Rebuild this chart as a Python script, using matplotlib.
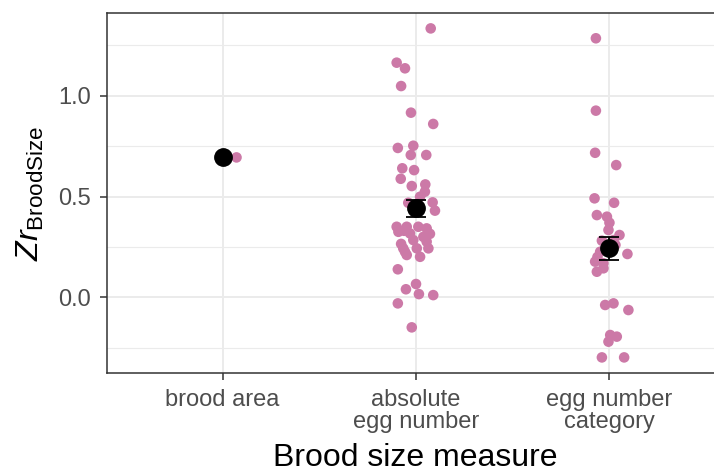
import matplotlib.pyplot as plt
import numpy as np
from matplotlib.ticker import FixedLocator

plt.rcParams['font.family'] = ['Liberation Sans', 'DejaVu Sans']
plt.rcParams['mathtext.fontset'] = 'custom'
plt.rcParams['mathtext.rm'] = 'Liberation Sans'
plt.rcParams['mathtext.it'] = 'Liberation Sans:italic'

# effect sizes per brood size measure
categories = ['brood area', 'absolute\negg number', 'egg number\ncategory']

zr_area = [0.694]
jit_area = [0.072]

zr_abs = [1.334, 1.164, 1.136, 1.048, 0.916, 0.860, 0.741, 0.752, 0.706, 0.706,
          0.640, 0.631, 0.588, 0.552, 0.560, 0.524, 0.499, 0.471, 0.430, 0.469,
          0.455, 0.350, 0.350, 0.350, 0.342, 0.325, 0.317, 0.300, 0.284, 0.276,
          0.243, 0.243, 0.243, 0.210, 0.201, 0.330, 0.315, 0.265, 0.226, 0.139,
          0.040, 0.066, 0.016, 0.011, -0.030, -0.149]
jit_abs = [0.076, -0.100, -0.057, -0.077, -0.026, 0.089, -0.094, -0.014, -0.027, 0.053,
           -0.071, -0.010, -0.079, -0.022, 0.048, 0.046, 0.021, 0.086, 0.098, -0.040,
           0.010, -0.100, -0.048, 0.012, 0.055, -0.091, -0.031, 0.038, -0.014, 0.055,
           -0.066, 0.004, 0.064, -0.048, 0.021, -0.062, 0.072, -0.077, -0.057, -0.094,
           -0.052, 0.000, 0.015, 0.089, -0.094, -0.022]

zr_cat = [1.285, 0.926, 0.717, 0.656, 0.491, 0.469, 0.408, 0.400, 0.370, 0.334,
          0.309, 0.281, 0.284, 0.215, 0.226, 0.177, 0.169, 0.127, 0.144, 0.200,
          -0.030, -0.038, -0.063, -0.187, -0.195, -0.220, -0.298, -0.298, 0.260]
jit_cat = [-0.070, -0.070, -0.074, 0.035, -0.077, 0.024, -0.065, -0.013, 0.000, -0.005,
           0.052, -0.039, 0.021, 0.093, -0.048, -0.074, -0.031, -0.065, -0.031, -0.062,
           0.021, -0.022, 0.098, 0.004, 0.038, -0.005, -0.039, 0.076, 0.031]

mean_zr = [0.694, 0.441, 0.243]
se_lo = [0.694, 0.400, 0.185]
se_hi = [0.694, 0.483, 0.298]

fig = plt.figure(figsize=(7.14, 4.73), dpi=100)
# panel runs past the right edge of the figure
ax = fig.add_axes([0.1492, 0.2120, 0.8669, 0.7595])

pink = '#CC79A7'
for i, (vals, jit) in enumerate([(zr_area, jit_area), (zr_abs, jit_abs), (zr_cat, jit_cat)]):
    ax.scatter(np.array(jit) + i, vals, s=58, color=pink, edgecolors='none', zorder=3)

x = np.arange(len(categories))
mean_zr = np.array(mean_zr)
lo = mean_zr - np.array(se_lo)
hi = np.array(se_hi) - mean_zr
ax.errorbar(x[1:], mean_zr[1:], yerr=[lo[1:], hi[1:]], fmt='none',
            ecolor='black', elinewidth=1.3, capsize=7, capthick=1.3, zorder=4)
ax.plot(x, mean_zr, 'o', color='black', markersize=12.5, zorder=5)

ax.set_xlim(-0.6, 2.6)
ax.set_ylim(-0.374, 1.408)
ax.set_xticks(x)
ax.set_xticklabels(categories, color='#4D4D4D', fontsize=17, linespacing=0.95)
ax.set_yticks([0.0, 0.5, 1.0])
ax.set_yticklabels(['0.0', '0.5', '1.0'], color='#4D4D4D', fontsize=17)
ax.yaxis.set_minor_locator(FixedLocator([-0.25, 0.25, 0.75, 1.25]))
ax.tick_params(axis='both', which='major', length=5, width=1.1, color='#333333')
ax.tick_params(axis='x', which='major', pad=7)
ax.tick_params(axis='y', which='major', pad=6)
ax.tick_params(axis='y', which='minor', length=0)

ax.grid(True, which='major', color='#EBEBEB', linewidth=1.4, zorder=0)
ax.grid(True, which='minor', axis='y', color='#EBEBEB', linewidth=0.8, zorder=0)
ax.set_axisbelow(True)
for sp in ax.spines.values():
    sp.set_color('#333333')
    sp.set_linewidth(1.1)

fig.text(415.5 / 714, 1 - 466 / 473, 'Brood size measure', fontsize=23,
         ha='center', va='baseline')
fig.text(30 / 714, 1 - 193 / 473, r'$Zr_{\mathrm{BroodSize}}$', fontsize=23,
         rotation=90, ha='center', va='center')

fig.savefig('out.png', dpi=100)
